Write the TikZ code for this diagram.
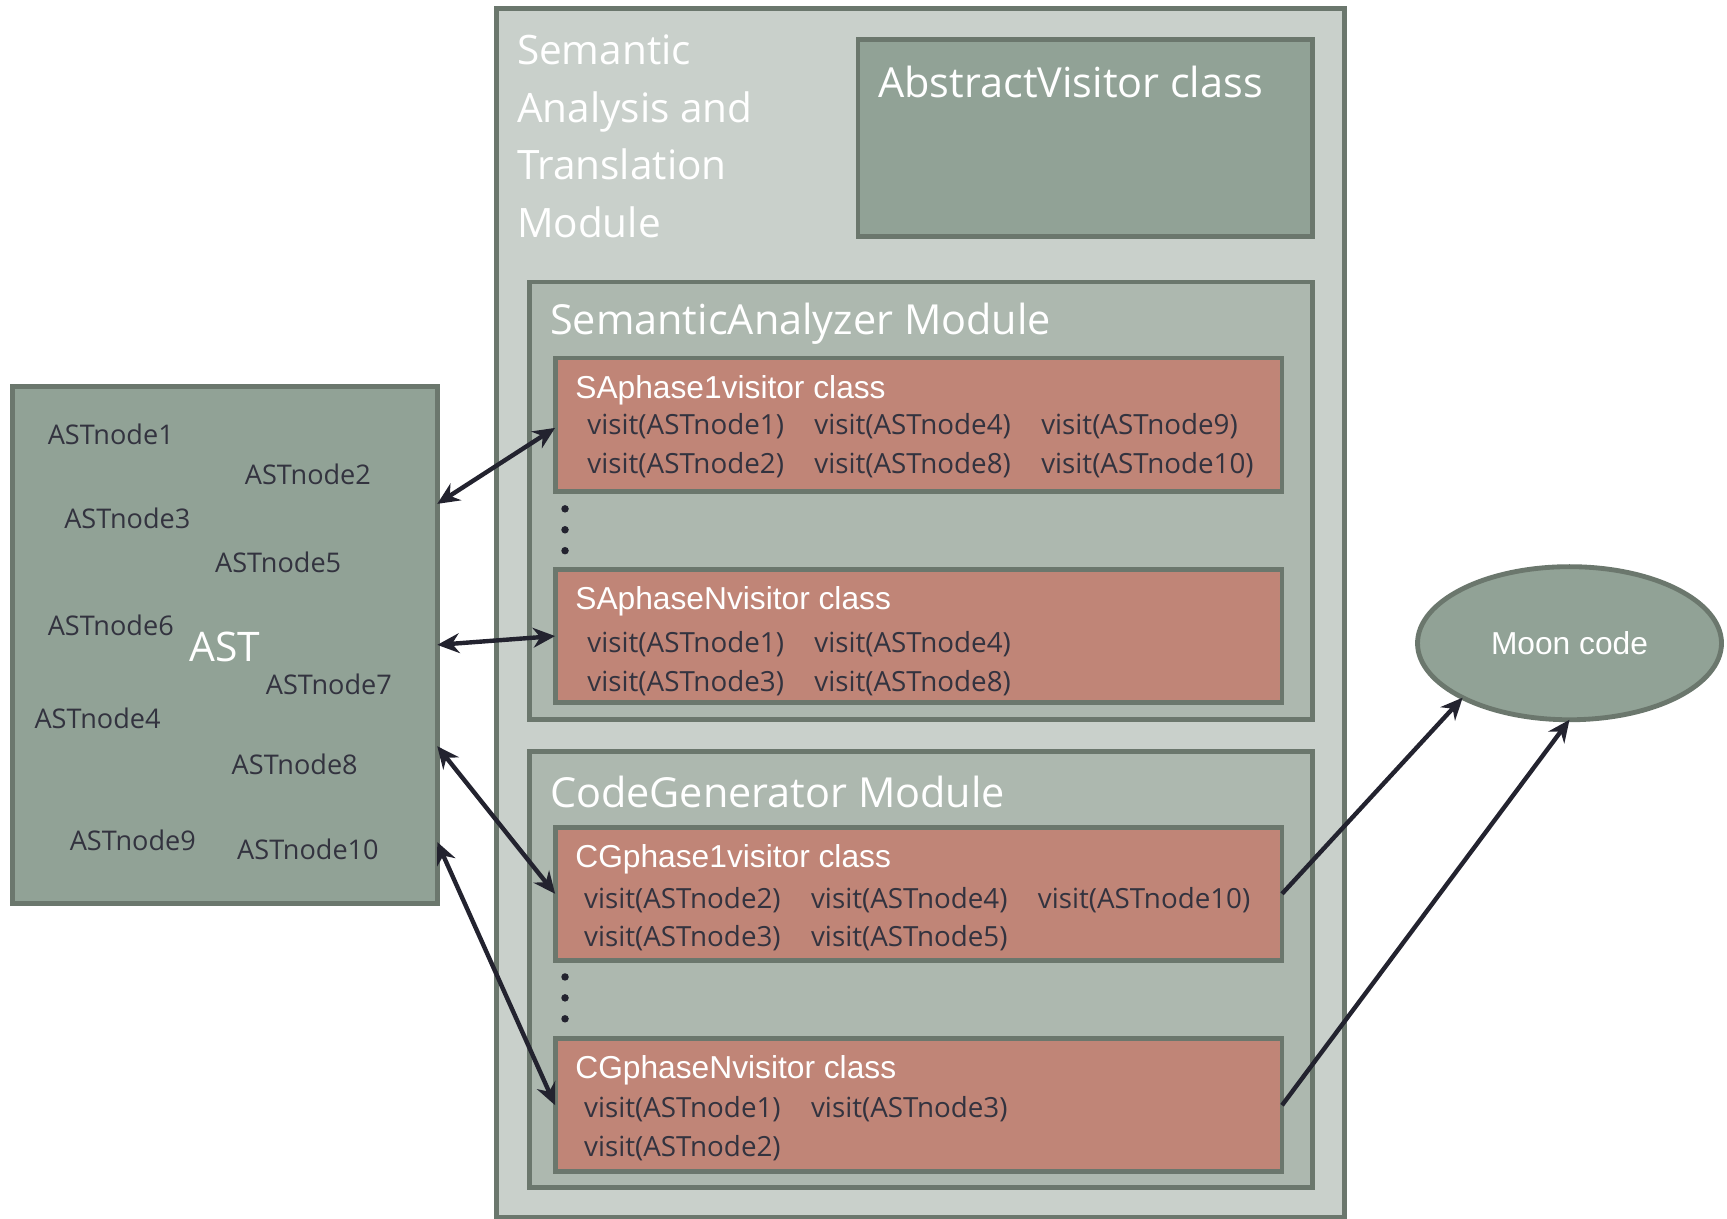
\documentclass[tikz,border=0pt]{standalone}
\usepackage{fontspec}
\setmainfont{Open Sans}
\newfontfamily\arialfont{Liberation Sans}
\usetikzlibrary{arrows.meta,shapes.geometric}

\definecolor{edge}{HTML}{6B776D}
\definecolor{outerfill}{HTML}{C9D0CB}
\definecolor{modfill}{HTML}{ADB8AF}
\definecolor{darkfill}{HTML}{91A296}
\definecolor{classfill}{HTML}{C08577}
\definecolor{ink}{HTML}{33333F}
\definecolor{arrowink}{HTML}{23232F}

\tikzset{
  frame/.style={draw=edge, line width=2.2pt, anchor=north west, inner sep=0pt, outer sep=0pt},
  classbox/.style={frame, fill=classfill, minimum width=330pt, minimum height=60.5pt},
  modbox/.style={frame, fill=modfill, minimum width=355.5pt, minimum height=198.5pt},
  bigtitle/.style={anchor=west, inner sep=0pt, text=white, font=\fontsize{18.8}{26}\selectfont},
  classtitle/.style={anchor=west, inner sep=0pt, text=white, font=\arialfont\fontsize{14.4}{17}\selectfont},
  item/.style={anchor=west, inner sep=0pt, text=ink, font=\fontsize{12.6}{15}\selectfont},
  astitem/.style={anchor=west, inner sep=0pt, text=ink, font=\fontsize{12.3}{15}\selectfont},
  link/.style={draw=arrowink, line width=2pt, {Stealth[length=10pt,width=9pt]}-{Stealth[length=10pt,width=9pt]}},
  outlink/.style={draw=arrowink, line width=2pt, -{Stealth[length=10pt,width=9pt]}},
  dot/.style={fill=arrowink}
}

\begin{document}
\begin{tikzpicture}[x=0.5pt,y=-0.5pt]
\useasboundingbox (0,0) rectangle (1568,1106);

% Semantic analysis and translation module
\node[frame, fill=outerfill, minimum width=385pt, minimum height=548.5pt] (module) at (451,8) {};
\node[anchor=north west, inner sep=0pt, text=white, align=left,
      font=\fontsize{18.4}{26.2}\selectfont] (moduletitle) at (469,31)
  {Semantic\\Analysis and\\Translation\\Module};

% Abstract visitor
\node[frame, fill=darkfill, minimum width=206.5pt, minimum height=89.5pt] (abstract) at (779,36) {};
\node[bigtitle] (abstracttitle) at (797,74) {AbstractVisitor class};

% Semantic analyzer module
\node[modbox] (samod) at (481,256) {};
\node[bigtitle] (samodtitle) at (499,294) {SemanticAnalyzer Module};

\node[classbox] (sa1) at (504,325) {};
\node[classtitle] (sa1title) at (522,354) {SAphase1visitor class};
\node[item] (sa1a) at (533,387) {visit(ASTnode1)};
\node[item] (sa1b) at (739,387) {visit(ASTnode4)};
\node[item] (sa1c) at (945,387) {visit(ASTnode9)};
\node[item] (sa1d) at (533,422) {visit(ASTnode2)};
\node[item] (sa1e) at (739,422) {visit(ASTnode8)};
\node[item] (sa1f) at (945,422) {visit(ASTnode10)};

\foreach \y in {462,481,500} \fill[dot] (513,\y) circle (1.7pt);

\node[classbox] (san) at (504,517) {};
\node[classtitle] (santitle) at (522,546) {SAphaseNvisitor class};
\node[item] (sana) at (533,585) {visit(ASTnode1)};
\node[item] (sanb) at (739,585) {visit(ASTnode4)};
\node[item] (sanc) at (533,620) {visit(ASTnode3)};
\node[item] (sand) at (739,620) {visit(ASTnode8)};

% Code generator module
\node[modbox, minimum height=198pt] (cgmod) at (481,682) {};
\node[bigtitle] (cgmodtitle) at (499,719) {CodeGenerator Module};

\node[classbox] (cg1) at (504,751) {};
\node[classtitle] (cg1title) at (522,780) {CGphase1visitor class};
\node[item] (cg1a) at (530,817) {visit(ASTnode2)};
\node[item] (cg1b) at (736,817) {visit(ASTnode4)};
\node[item] (cg1c) at (942,817) {visit(ASTnode10)};
\node[item] (cg1d) at (530,852) {visit(ASTnode3)};
\node[item] (cg1e) at (736,852) {visit(ASTnode5)};

\foreach \y in {887,906,925} \fill[dot] (513,\y) circle (1.7pt);

\node[classbox] (cgn) at (504,943) {};
\node[classtitle] (cgntitle) at (522,972) {CGphaseNvisitor class};
\node[item] (cgna) at (530,1007) {visit(ASTnode1)};
\node[item] (cgnb) at (736,1007) {visit(ASTnode3)};
\node[item] (cgnc) at (530,1042) {visit(ASTnode2)};

% Abstract syntax tree
\node[frame, fill=darkfill, minimum width=193pt, minimum height=234.5pt] (ast) at (11,351) {};
\node[inner sep=0pt, text=white, font=\fontsize{18.5}{22}\selectfont] (asttitle) at (204,587) {AST};
\node[astitem] (n1) at (43,394) {ASTnode1};
\node[astitem] (n2) at (222,431) {ASTnode2};
\node[astitem] (n3) at (58,471) {ASTnode3};
\node[astitem] (n5) at (195,511) {ASTnode5};
\node[astitem] (n6) at (43,568) {ASTnode6};
\node[astitem] (n7) at (241,621) {ASTnode7};
\node[astitem] (n4) at (31,652) {ASTnode4};
\node[astitem] (n8) at (210,694) {ASTnode8};
\node[astitem] (n9) at (63,763) {ASTnode9};
\node[astitem] (n10) at (215,771) {ASTnode10};

% Output
\node[ellipse, draw=edge, line width=2.2pt, fill=darkfill, minimum width=138pt, minimum height=69.5pt,
      inner sep=0pt, outer sep=0pt, text=white, font=\arialfont\fontsize{14.4}{17}\selectfont] (moon) at (1425,584) {Moon code};

% Connectors
\draw[link] ([yshift=64pt]ast.east) -- ([yshift=-1.5pt]sa1.west);
\draw[link] (ast.east) -- (san.west);
\draw[link] ([yshift=-46pt]ast.east) -- (cg1.west);
\draw[link] ([yshift=-89.5pt]ast.east) -- (cgn.west);
\draw[outlink] (cg1.east) -- (moon.207);
\draw[outlink] (cgn.east) -- (moon.south);
\end{tikzpicture}
\end{document}
